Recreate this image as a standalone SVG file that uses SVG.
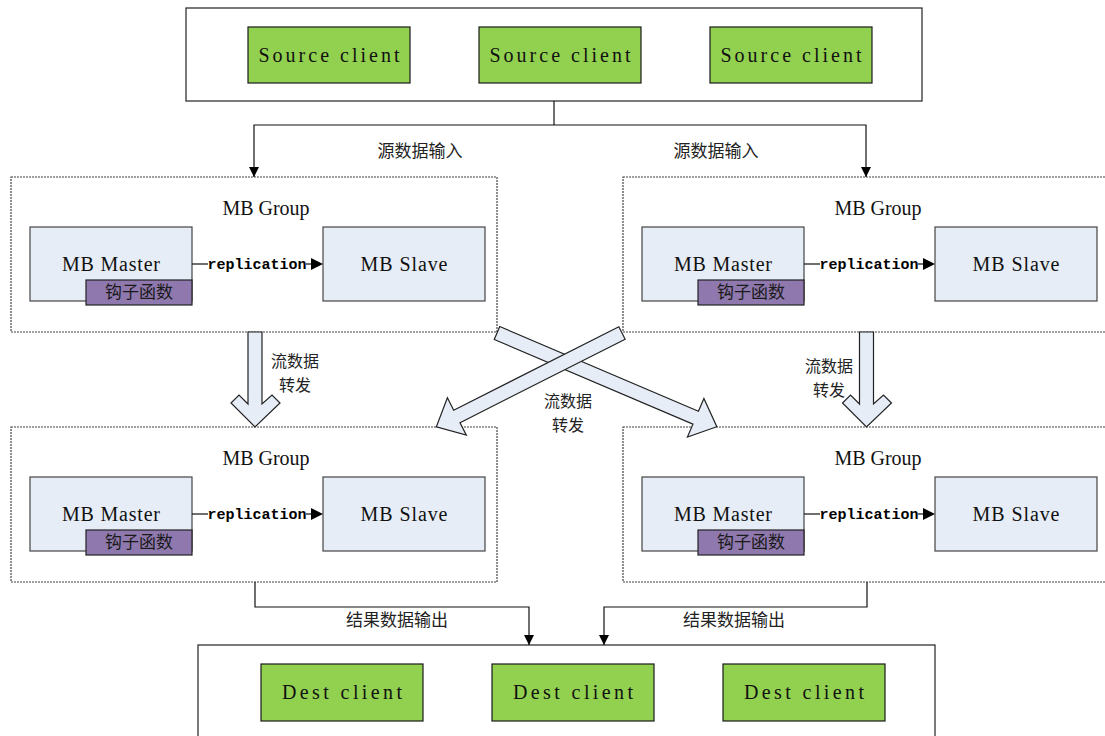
<svg xmlns="http://www.w3.org/2000/svg" width="1105" height="736" viewBox="0 0 1105 736">
<defs>
<style>
.box{fill:#fff;stroke:#222;stroke-width:1.2}
.green{fill:#92D050;stroke:#1a1a1a;stroke-width:1.2}
.blue{fill:#E6EDF7;stroke:#444;stroke-width:1.2}
.hook{fill:#8F78AD;stroke:#222;stroke-width:1.2}
.dash{fill:none;stroke:#444;stroke-width:1.2;stroke-dasharray:2,1}
.en{font-family:"Liberation Serif",serif;font-size:20px;fill:#111;text-anchor:middle}
.rep{font-family:"Liberation Mono",monospace;font-size:15px;font-weight:bold;fill:#000;text-anchor:middle}
.cn{font-family:"Noto Sans CJK SC",sans-serif;font-size:17px;fill:#222;text-anchor:middle}
.cn2{font-family:"Noto Sans CJK SC",sans-serif;font-size:16px;fill:#222;text-anchor:middle}
.line{fill:none;stroke:#111;stroke-width:1.2}
.big{fill:#E6EDF7;stroke:#222;stroke-width:1.2}
</style>
<marker id="tri" viewBox="0 0 10 10" refX="10" refY="5" markerWidth="10" markerHeight="10" markerUnits="userSpaceOnUse" orient="auto">
<path d="M0,0 L10,5 L0,10 Z" fill="#000"/>
</marker>
<g id="mbgroup">
<rect class="dash" x="11" y="177" width="486" height="155"/>
<text class="en" x="266" y="215" textLength="87" lengthAdjust="spacing">MB Group</text>
<rect class="blue" x="30" y="227" width="162" height="74"/>
<text class="en" x="111" y="271" textLength="98" lengthAdjust="spacing">MB Master</text>
<rect class="hook" x="86" y="280" width="106" height="25"/>
<text class="cn" x="139" y="298" style="fill:#1a1a1a">钩子函数</text>
<rect class="blue" x="323" y="227" width="162" height="74"/>
<text class="en" x="404" y="271" textLength="87" lengthAdjust="spacing">MB Slave</text>
<line class="line" x1="192" y1="264" x2="208" y2="264"/>
<text class="rep" x="257" y="269">replication</text>
<line class="line" x1="306" y1="264" x2="312" y2="264"/>
<polygon points="311,258 323,264 311,270" fill="#000"/>
</g>
</defs>

<g id="source">
<rect class="box" x="186" y="8" width="736" height="93"/>
<rect class="green" x="248" y="27" width="162" height="56"/>
<text class="en" x="329" y="62" textLength="141" lengthAdjust="spacing">Source client</text>
<rect class="green" x="479" y="27" width="162" height="56"/>
<text class="en" x="560" y="62" textLength="141" lengthAdjust="spacing">Source client</text>
<rect class="green" x="710" y="27" width="162" height="56"/>
<text class="en" x="791" y="62" textLength="141" lengthAdjust="spacing">Source client</text>
</g>

<g id="group-top-left"><use href="#mbgroup"/></g>
<g id="group-top-right"><use href="#mbgroup" transform="translate(612,0)"/></g>
<g id="group-bottom-left"><use href="#mbgroup" transform="translate(0,250)"/></g>
<g id="group-bottom-right"><use href="#mbgroup" transform="translate(612,250)"/></g>

<g id="dest">
<rect class="box" x="198" y="645" width="737" height="100"/>
<rect class="green" x="261" y="664" width="162" height="57"/>
<text class="en" x="342" y="699" textLength="120" lengthAdjust="spacing">Dest client</text>
<rect class="green" x="492" y="664" width="162" height="57"/>
<text class="en" x="573" y="699" textLength="120" lengthAdjust="spacing">Dest client</text>
<rect class="green" x="723" y="664" width="162" height="57"/>
<text class="en" x="804" y="699" textLength="120" lengthAdjust="spacing">Dest client</text>
</g>

<g id="connectors">
<polyline class="line" points="554,101 554,125"/>
<polyline class="line" points="554,125 254,125 254,177" marker-end="url(#tri)"/>
<polyline class="line" points="554,125 866,125 866,177" marker-end="url(#tri)"/>
<polyline class="line" points="255,582 255,607 529,607 529,645" marker-end="url(#tri)"/>
<polyline class="line" points="867,582 867,607 604,607 604,645" marker-end="url(#tri)"/>
<polygon class="big" points="248,332 262,332 262,404 272,395 280,403 255,427 231,403 239,395 248,404"/>
<polygon class="big" transform="translate(611.5,0)" points="248,332 262,332 262,404 272,395 280,403 255,427 231,403 239,395 248,404"/>
<polygon class="big" transform="translate(497,333) rotate(23.1)" points="0,-7 216,-7 216,-21 239,0 216,21 216,7 0,7"/>
<polygon class="big" transform="translate(622,333) rotate(153.2)" points="0,-7 185,-7 185,-21 208,0 185,21 185,7 0,7"/>
</g>

<g id="labels">
<text class="cn" x="420" y="157">源数据输入</text>
<text class="cn" x="716" y="157">源数据输入</text>
<text class="cn2" x="295" y="367">流数据</text>
<text class="cn2" x="295" y="391">转发</text>
<text class="cn2" x="568" y="407">流数据</text>
<text class="cn2" x="568" y="431">转发</text>
<text class="cn2" x="829" y="372">流数据</text>
<text class="cn2" x="829" y="396">转发</text>
<text class="cn" x="397" y="626">结果数据输出</text>
<text class="cn" x="734" y="626">结果数据输出</text>
</g>
</svg>
